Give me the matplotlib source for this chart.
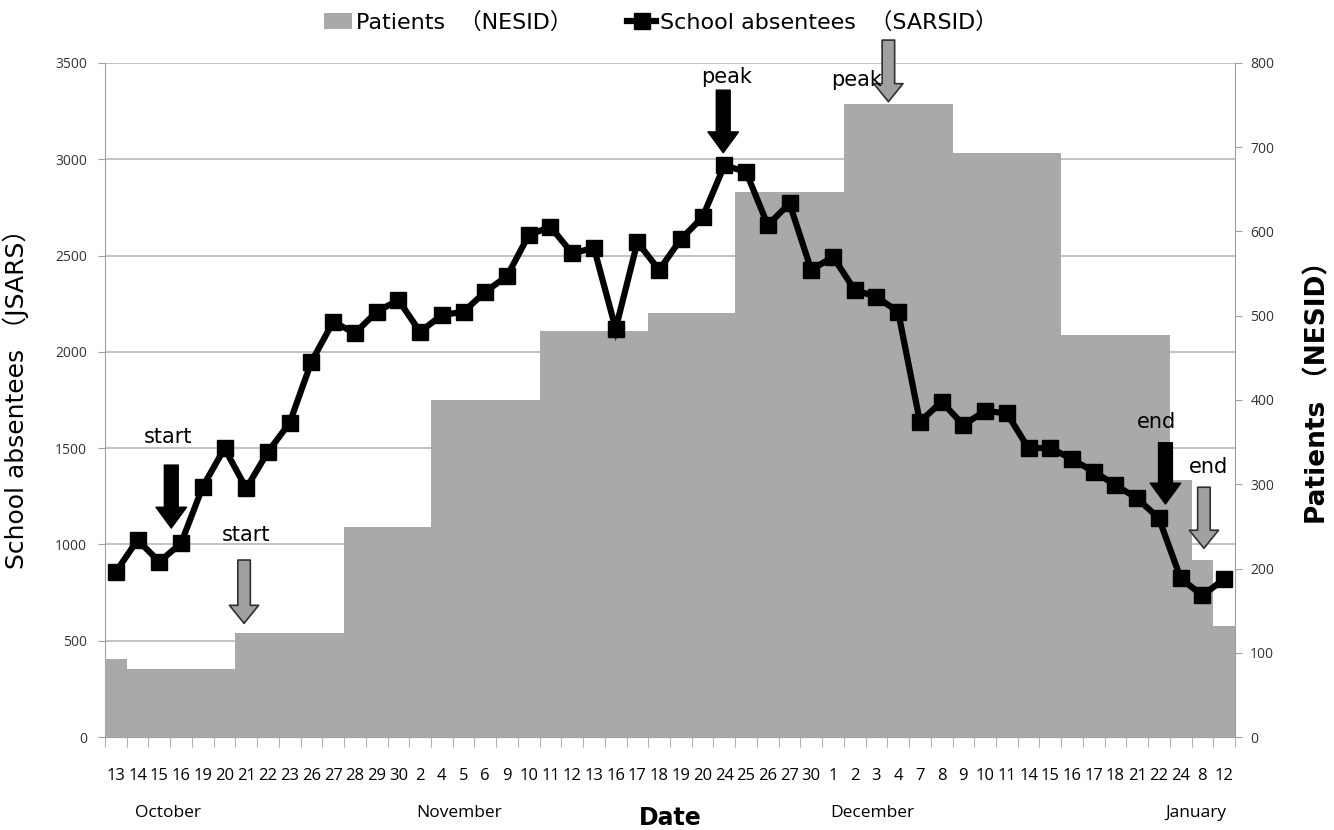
import matplotlib
matplotlib.use('Agg')
import matplotlib.pyplot as plt
from matplotlib.patches import Patch
from matplotlib.lines import Line2D
import numpy as np

plt.rcParams['font.family'] = ['DejaVu Sans', 'Noto Sans CJK JP']

# dates on the x axis (category axis)
oct_days = [13, 14, 15, 16, 19, 20, 21, 22, 23, 26, 27, 28, 29, 30]
nov_days = [2, 4, 5, 6, 9, 10, 11, 12, 13, 16, 17, 18, 19, 20, 24, 25, 26, 27, 30]
dec_days = [1, 2, 3, 4, 7, 8, 9, 10, 11, 14, 15, 16, 17, 18, 21, 22, 24]
jan_days = [8, 12]
day_labels = [str(d) for d in oct_days + nov_days + dec_days + jan_days]

# school absentees (SARSID), one per date
absentees = [858, 1023, 910, 1006, 1300, 1499, 1291, 1481, 1632, 1949,
             2156, 2097, 2208, 2269,
             2104, 2191, 2208, 2312, 2393, 2606, 2650, 2511, 2540, 2120,
             2570, 2425, 2585, 2700, 2968, 2935, 2658, 2771, 2425,
             2494, 2321, 2286, 2208, 1637, 1741, 1620, 1693, 1681, 1499,
             1502, 1442, 1378, 1308, 1239, 1135, 824,
             735, 820]

# patients (NESID), weekly steps: first date index of each week and count
week_start = [0, 1, 6, 11, 15, 20, 25, 29, 34, 39, 44, 49, 50, 51]
patients = [92, 81, 124, 249, 400, 482, 503, 647, 751, 693, 477, 305, 210, 132]

n = len(day_labels)
x = np.arange(n)
week_end = week_start[1:] + [n]

fig = plt.figure(figsize=(13.34, 8.3), dpi=100)
ax = fig.add_axes([105/1334, 1-737/830, 1130/1334, 674/830])
ax2 = ax.twinx()
ax3 = ax.twinx()

gridc = '#bdbdbd'
tickfont = ['Open Sans', 'DejaVu Sans']
# left axis: grid and ticks
ax.set_ylim(0, 3500)
ax.set_yticks(range(0, 3501, 500))
ax.set_xlim(-0.5, n - 0.5)
ax.grid(axis='y', color=gridc, linewidth=1.3)
for s in ['top', 'right']:
    ax.spines[s].set_visible(False)
ax.spines['left'].set_color('#a0a0a0')
ax.spines['bottom'].set_color('#a0a0a0')
ax.tick_params(axis='y', length=5, color='#a0a0a0', labelsize=10, labelcolor='#333333', pad=8)
for t in ax.get_yticklabels():
    t.set_family(tickfont)
ax.set_xticks(x)
ax.set_xticklabels(day_labels, fontsize=12, family=tickfont)
ax.set_xticks(np.arange(-0.5, n, 1), minor=True)
ax.tick_params(axis='x', which='major', length=0, pad=22)
ax.tick_params(axis='x', which='minor', length=7, color='#a0a0a0')
ax.set_ylabel('School absentees （JSARS）', fontsize=18,
              family=['DejaVu Sans', 'Noto Sans CJK JP'])
ax.yaxis.set_label_coords(-0.067, 0.51)

# right axis: patient bars
lefts = [s - 0.5 for s in week_start]
widths = [e - s for s, e in zip(week_start, week_end)]
ax2.bar(lefts, patients, width=widths, align='edge', color='#a9a9a9', linewidth=0)
ax2.set_ylim(0, 800)
ax2.set_yticks(range(0, 801, 100))
for s in ['top', 'left', 'bottom']:
    ax2.spines[s].set_visible(False)
ax2.spines['right'].set_color('#a0a0a0')
ax2.tick_params(axis='y', length=5, color='#a0a0a0', labelsize=10, labelcolor='#333333', pad=6)
for t in ax2.get_yticklabels():
    t.set_family(tickfont)
ax2.set_ylabel('Patients （NESID）', fontsize=19, fontweight='bold', rotation=90,
               family=['DejaVu Sans', 'Noto Sans CJK JP'])
ax2.yaxis.set_label_coords(1.062, 0.52)

# top layer: absentee line and arrows
ax3.set_ylim(0, 3500)
ax3.set_yticks([])
for s in ax3.spines.values():
    s.set_visible(False)
ax3.plot(x, absentees, color='black', linewidth=4.5, marker='s', markersize=12,
         solid_joinstyle='miter')

black_arrow = dict(arrowstyle='simple,head_width=2.2,head_length=1.5,tail_width=1.0',
                   fc='black', ec='black', mutation_scale=10, shrinkA=0, shrinkB=0)
grey_arrow = dict(arrowstyle='simple,head_width=2.1,head_length=1.3,tail_width=0.9',
                  fc='#a0a0a0', ec='#303030', lw=1.2, mutation_scale=10, shrinkA=0, shrinkB=0)

# (text, text x, text y, arrow x, tail y, tip y, style)
notes = [
    ('start', 2.4, 1558, 2.55, 1412, 1085, black_arrow),
    ('start', 6.0, 1049, 5.9, 919, 590, grey_arrow),
    ('peak', 28.1, 3428, 27.95, 3359, 3034, black_arrow),
    ('peak', 34.1, 3411, 35.55, 3619, 3299, grey_arrow),
    ('end', 47.9, 1637, 48.3, 1528, 1210, black_arrow),
    ('end', 50.3, 1403, 50.07, 1297, 980, grey_arrow),
]
for txt, tx, ty, axx, y0, y1, st in notes:
    ax3.annotate('', xy=(axx, y1), xytext=(axx, y0), arrowprops=st, annotation_clip=False)
    ax3.text(tx, ty, txt, fontsize=15, ha='center', va='center')

# month labels and axis title
months = [('October', 2.4), ('November', 15.8), ('December', 34.8), ('January', 49.7)]
tr = ax.get_xaxis_transform()
for m, mx in months:
    ax.text(mx, -0.113, m, transform=tr, ha='center', va='center', fontsize=12.5,
            family=tickfont)
ax.text(25.5, -0.12, 'Date', transform=tr, ha='center', va='center', fontsize=17,
        fontweight='bold')

handles = [Patch(facecolor='#a9a9a9', edgecolor='none'),
           Line2D([0], [0], color='black', linewidth=4.5, marker='s', markersize=11)]
fig.legend(handles, ['Patients  （NESID）', 'School absentees  （SARSID）'],
           loc='center', bbox_to_anchor=(0.495, 0.973), ncol=2, frameon=False,
           handlelength=1.3, handletextpad=0.15, columnspacing=2.5,
           prop={'family': ['DejaVu Sans', 'Noto Sans CJK JP'], 'size': 16})

fig.savefig('out.png', dpi=100)
